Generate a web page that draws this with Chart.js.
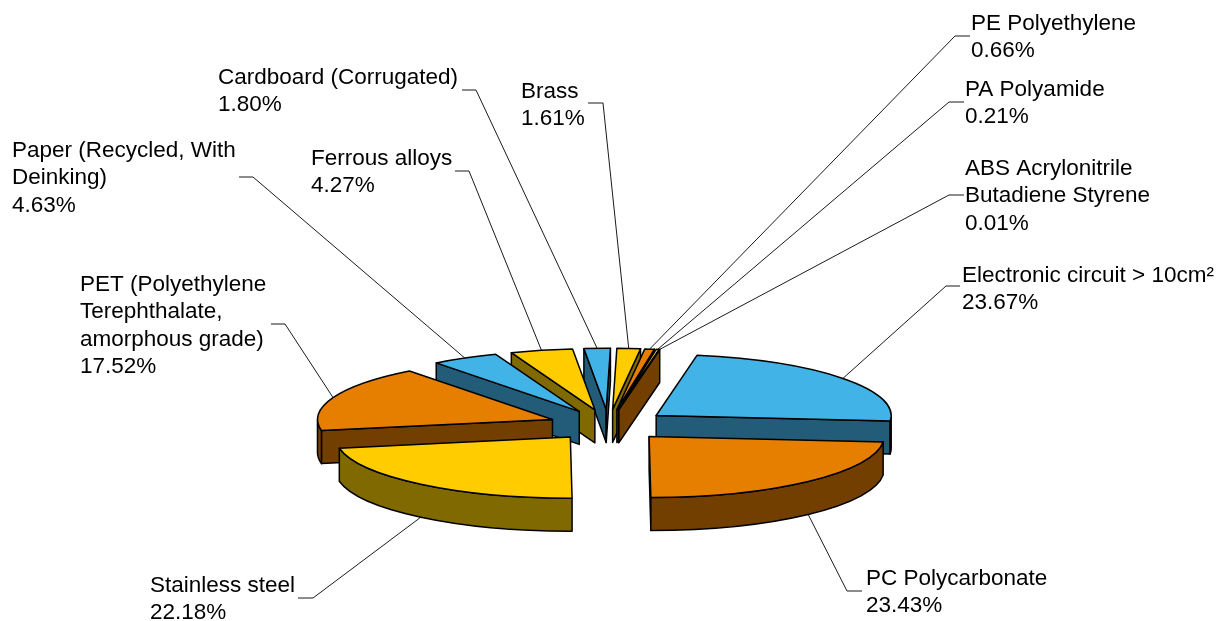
<!DOCTYPE html>
<html>
<head>
<meta charset="utf-8">
<style>html,body{margin:0;padding:0;background:#fff}canvas{display:block}</style>
<script src="https://cdn.jsdelivr.net/npm/chart.js@4"></script>
</head>
<body>
<canvas id="c" width="1223" height="621"></canvas>
<script>
const categories = ['Electronic circuit > 10cm²','PC Polycarbonate','Stainless steel','PET (Polyethylene Terephthalate, amorphous grade)','Paper (Recycled, With Deinking)','Ferrous alloys','Cardboard (Corrugated)','Brass','PE Polyethylene','PA Polyamide','ABS Acrylonitrile Butadiene Styrene'];
const values = [23.67,23.43,22.18,17.52,4.63,4.27,1.80,1.61,0.66,0.21,0.01];
const wrappedNames = [['Electronic circuit > 10cm²'],['PC Polycarbonate'],['Stainless steel'],['PET (Polyethylene','Terephthalate,','amorphous grade)'],['Paper (Recycled, With','Deinking)'],['Ferrous alloys'],['Cardboard (Corrugated)'],['Brass'],['PE Polyethylene'],['PA Polyamide'],['ABS Acrylonitrile','Butadiene Styrene']];
const topColors = ['#41B3E6','#E67E00','#FFCC00','#E67E00','#41B3E6','#FFCC00','#41B3E6','#FFCC00','#E67E00','#FFCC00','#E67E00'];
const sideColors = ['#225C78','#733F00','#806A00','#733F00','#225C78','#806A00','#225C78','#806A00','#733F00','#806A00','#733F00'];
// label layout: text left x, first baseline y, leader elbow x,y and leader end x
const labelX = [962,866,150,80,12,311,218,521,971,965,965];
const labelY = [282,585,592,291,157,165,84,98,30,96,175];
const elbowX = [946,847,313,285,253,469,476,603,955,949,949];
const elbowY = [286,591,598,324,177,171,90,103,36,102,195];
const endX   = [960,862,298,271,239,455,462,588,970,964,964];

const SQUASH = 0.26, DEPTH = 33, EXPLODE = 60, RADIUS = 235;

function sliceGeom(arc){
  const p = arc.getProps(['x','y','startAngle','endAngle','outerRadius'], true);
  const mid = (p.startAngle+p.endAngle)/2;
  return {cx:p.x,cy:p.y,a1:p.startAngle,a2:p.endAngle,mid,R:p.outerRadius,
    sx:p.x+Math.cos(mid)*EXPLODE, sy:p.y+Math.sin(mid)*EXPLODE*SQUASH};
}
function stroke(ctx){ctx.lineWidth=1.5;ctx.strokeStyle='#000';ctx.lineJoin='round';ctx.stroke();}
function drawFace(ctx,g,a){
  const ex=g.sx+Math.cos(a)*g.R, ey=g.sy+Math.sin(a)*g.R*SQUASH;
  ctx.beginPath();ctx.moveTo(g.sx,g.sy);ctx.lineTo(ex,ey);ctx.lineTo(ex,ey+DEPTH);ctx.lineTo(g.sx,g.sy+DEPTH);ctx.closePath();
  ctx.fill();stroke(ctx);
}
function drawRimWall(ctx,g){
  [-2*Math.PI,0,2*Math.PI].forEach(k=>{
    const lo=Math.max(g.a1,k), hi=Math.min(g.a2,k+Math.PI);
    if(hi<=lo) return;
    ctx.beginPath();
    ctx.ellipse(g.sx,g.sy,g.R,g.R*SQUASH,0,lo,hi);
    ctx.ellipse(g.sx,g.sy+DEPTH,g.R,g.R*SQUASH,0,hi,lo,true);
    ctx.closePath();ctx.fill();stroke(ctx);
  });
}
const pie3d = {
  id:'pie3d',
  beforeDatasetDraw(chart){
    const ctx=chart.ctx, meta=chart.getDatasetMeta(0);
    const order=meta.data.map((arc,i)=>({arc,i,g:sliceGeom(arc)})).sort((a,b)=>a.g.sy-b.g.sy);
    order.forEach(({arc,i,g})=>{
      ctx.save();
      ctx.fillStyle=sideColors[i];
      if(Math.cos(g.a1)<0) drawFace(ctx,g,g.a1);
      if(Math.cos(g.a2)>0) drawFace(ctx,g,g.a2);
      drawRimWall(ctx,g);
      ctx.restore();
      ctx.save();
      ctx.translate(g.sx,g.sy);ctx.scale(1,SQUASH);ctx.translate(-g.cx,-g.cy);
      arc.draw(ctx);
      ctx.restore();
      ctx.beginPath();
      ctx.moveTo(g.sx,g.sy);
      ctx.ellipse(g.sx,g.sy,g.R,g.R*SQUASH,0,g.a1,g.a2);
      ctx.closePath();stroke(ctx);
    });
    return false;
  },
  afterDatasetsDraw(chart){
    const ctx=chart.ctx, meta=chart.getDatasetMeta(0);
    ctx.save();
    meta.data.forEach((arc,i)=>{
      const g=sliceGeom(arc);
      const front=Math.sin(g.mid)>0;
      const x=g.sx+Math.cos(g.mid)*g.R, y=g.sy+Math.sin(g.mid)*g.R*SQUASH+(front?DEPTH:0);
      ctx.beginPath();ctx.moveTo(x,y);ctx.lineTo(elbowX[i],elbowY[i]);ctx.lineTo(endX[i],elbowY[i]);
      ctx.lineWidth=0.9;ctx.strokeStyle='#000';ctx.stroke();
      ctx.fillStyle='#000';ctx.font='22.5px "Liberation Sans", Arial, sans-serif';ctx.textBaseline='alphabetic';ctx.textAlign='left';
      const lines=[...wrappedNames[i],values[i].toFixed(2)+'%'];
      lines.forEach((s,j)=>ctx.fillText(s,labelX[i],labelY[i]+j*27.4));
    });
    ctx.restore();
  }
};
new Chart(document.getElementById('c'),{
  type:'pie',
  data:{labels:categories,datasets:[{data:values,backgroundColor:topColors,borderWidth:0,offset:0}]},
  options:{responsive:false,animation:false,events:[],rotation:10,radius:RADIUS,cutout:0,
    layout:{padding:{top:229,left:0,right:6,bottom:0}},
    plugins:{legend:{display:false},tooltip:{enabled:false},title:{display:false}}},
  plugins:[pie3d]
});
</script>
</body>
</html>
